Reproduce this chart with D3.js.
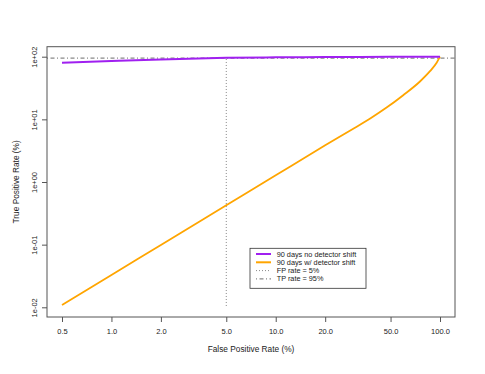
<!DOCTYPE html>
<html>
<head>
<meta charset="utf-8">
<script src="https://cdn.jsdelivr.net/npm/d3@7"></script>
<style>
  body { margin: 0; background: #fff; }
  svg { display: block; font-family: "Liberation Sans", Arial, Helvetica, sans-serif; }
</style>
</head>
<body>
<div id="chart"></div>
<script>
// readings, FPR and TPR in %
const noShiftFpr = [0.5, 1, 2, 5, 10, 20, 50, 100];
const noShiftTpr = [80, 85.3, 90.5, 95.8, 97.6, 98.8, 99.6, 100];

const shiftFpr = [0.5, 1, 2, 5, 10, 20, 30, 38, 47.3, 59.7, 75.5, 86.9, 95.4, 100];
const shiftTpr = [0.0109, 0.0328, 0.099, 0.425, 1.28, 3.85, 7.21, 10.5, 15.4, 24.3, 40.2, 58.7, 80.0, 100];

const xTicks = [0.5, 1, 2, 5, 10, 20, 50, 100];
const yTicks = [0.01, 0.1, 1, 10, 100];
const yTickLabels = ['1e-02', '1e-01', '1e+00', '1e+01', '1e+02'];

const legendLabels = ['90 days no detector shift', '90 days w/ detector shift', 'FP rate = 5%', 'TP rate = 95%'];

const fpCut = 5;
const tpCut = 95;

const width = 485;
const height = 374;
const box = {left: 47, right: 455, top: 46.7, bottom: 317};

const svg = d3.select('#chart')
  .append('svg')
  .attr('width', width)
  .attr('height', height);

const x = d3.scaleLog().domain([0.5, 100]).range([62, 440]);
const y = d3.scaleLog().domain([0.01, 100]).range([307.3, 56.7]);

svg.append('clipPath')
  .attr('id', 'plotclip')
  .append('rect')
  .attr('x', box.left)
  .attr('y', box.top)
  .attr('width', box.right - box.left)
  .attr('height', box.bottom - box.top);

const plot = svg.append('g').attr('clip-path', 'url(#plotclip)');

// reference lines
const tprAtCut = noShiftTpr[noShiftFpr.indexOf(fpCut)];
plot.append('line')
  .attr('x1', x(fpCut)).attr('x2', x(fpCut))
  .attr('y1', y(0.0105)).attr('y2', y(tprAtCut))
  .attr('stroke', '#888')
  .attr('stroke-width', 1)
  .attr('stroke-dasharray', '1,2');

plot.append('line')
  .attr('x1', box.left).attr('x2', box.right)
  .attr('y1', y(tpCut)).attr('y2', y(tpCut))
  .attr('stroke', '#444')
  .attr('stroke-width', 0.8)
  .attr('stroke-dasharray', '1,2.5,4,2.5');

const line = d3.line()
  .x(function(d) { return x(d[0]); })
  .y(function(d) { return y(d[1]); })
  .curve(d3.curveMonotoneX);

plot.append('path')
  .datum(d3.zip(shiftFpr, shiftTpr))
  .attr('d', line)
  .attr('fill', 'none')
  .attr('stroke', '#FFA500')
  .attr('stroke-width', 1.8);

plot.append('path')
  .datum(d3.zip(noShiftFpr, noShiftTpr))
  .attr('d', line)
  .attr('fill', 'none')
  .attr('stroke', '#A020F0')
  .attr('stroke-width', 2);

// box
svg.append('rect')
  .attr('x', box.left)
  .attr('y', box.top)
  .attr('width', box.right - box.left)
  .attr('height', box.bottom - box.top)
  .attr('fill', 'none')
  .attr('stroke', '#555')
  .attr('stroke-width', 1);

// x axis
const xAxis = svg.append('g')
  .attr('transform', 'translate(0,' + box.bottom + ')')
  .call(d3.axisBottom(x).tickValues(xTicks).tickFormat(d3.format('.1f')).tickSize(5));
xAxis.select('.domain').remove();
xAxis.selectAll('line').attr('stroke', '#555');
xAxis.selectAll('text')
  .attr('y', 17.4)
  .attr('dy', 0)
  .attr('fill', '#222')
  .style('font-size', '7.5px')
  .style('font-family', '"Liberation Sans", Arial, sans-serif');

// y axis
const yAxis = svg.append('g')
  .attr('transform', 'translate(' + box.left + ',0)')
  .call(d3.axisLeft(y).tickValues(yTicks).tickFormat(function(d, i) { return yTickLabels[i]; }).tickSize(5));
yAxis.select('.domain').remove();
yAxis.selectAll('line').attr('stroke', '#555');
yAxis.selectAll('text')
  .attr('x', null)
  .attr('dy', 0)
  .attr('text-anchor', 'middle')
  .attr('transform', 'translate(-10.3,0) rotate(-90)')
  .attr('fill', '#222')
  .style('font-size', '7.5px')
  .style('font-family', '"Liberation Sans", Arial, sans-serif');

// axis titles
svg.append('text')
  .attr('x', (box.left + box.right) / 2)
  .attr('y', 352)
  .attr('text-anchor', 'middle')
  .attr('fill', '#222')
  .style('font-size', '8.3px')
  .text('False Positive Rate (%)');

svg.append('text')
  .attr('transform', 'translate(19,' + ((box.top + box.bottom) / 2) + ') rotate(-90)')
  .attr('text-anchor', 'middle')
  .attr('fill', '#222')
  .style('font-size', '8.3px')
  .text('True Positive Rate (%)');

// legend
const legend = svg.append('g').attr('transform', 'translate(250,248.3)');
legend.append('rect')
  .attr('width', 116)
  .attr('height', 40)
  .attr('fill', '#fff')
  .attr('stroke', '#333')
  .attr('stroke-width', 0.8);

const legendStyles = [
  {stroke: '#A020F0', width: 2, dash: null},
  {stroke: '#FFA500', width: 2, dash: null},
  {stroke: '#888', width: 1, dash: '1,2'},
  {stroke: '#444', width: 0.8, dash: '1,2.5,4,2.5'}
];

legendLabels.forEach(function(label, i) {
  const ly = 5.7 + i * 8.3;
  legend.append('line')
    .attr('x1', 6).attr('x2', 21)
    .attr('y1', ly).attr('y2', ly)
    .attr('stroke', legendStyles[i].stroke)
    .attr('stroke-width', legendStyles[i].width)
    .attr('stroke-dasharray', legendStyles[i].dash);
  legend.append('text')
    .attr('x', 26.7)
    .attr('y', ly + 2.6)
    .attr('fill', '#222')
    .style('font-size', '7.3px')
    .text(label);
});
</script>
</body>
</html>
